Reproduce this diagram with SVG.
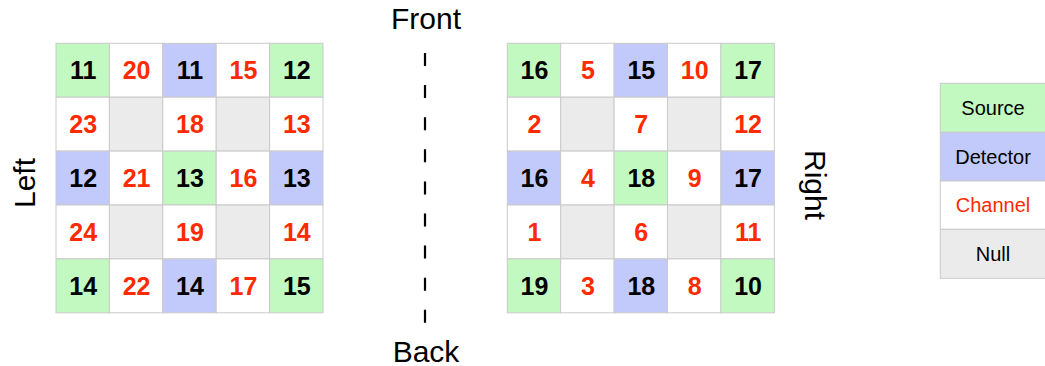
<svg xmlns="http://www.w3.org/2000/svg" width="1045" height="366" viewBox="0 0 1045 366">
<style>
.s{fill:#c1f9c1}.d{fill:#c1cafa}.c{fill:#ffffff}.n{fill:#ebebeb}
.cell{stroke:#cacaca;stroke-width:1}
.num{font-family:"Liberation Sans",Arial,sans-serif;font-weight:bold;font-size:25px;text-anchor:middle}
.k{fill:#000}.r{fill:#ff2a00}
.lbl{font-family:"Liberation Sans",Arial,sans-serif;font-size:30px;fill:#000;text-anchor:middle}
.leg{font-family:"Liberation Sans",Arial,sans-serif;font-size:20px;text-anchor:middle}
</style>
<rect width="1045" height="366" fill="#fff"/>
<g id="left-grid">
<g id="L11"><rect class="cell s" x="56" y="43.3" width="53.4" height="53.9"/><text class="num k" x="83.2" y="79.3">11</text></g>
<g id="L12"><rect class="cell c" x="109.4" y="43.3" width="53.4" height="53.9"/><text class="num r" x="136.6" y="79.3">20</text></g>
<g id="L13"><rect class="cell d" x="162.8" y="43.3" width="53.4" height="53.9"/><text class="num k" x="190" y="79.3">11</text></g>
<g id="L14"><rect class="cell c" x="216.2" y="43.3" width="53.4" height="53.9"/><text class="num r" x="243.4" y="79.3">15</text></g>
<g id="L15"><rect class="cell s" x="269.6" y="43.3" width="53.4" height="53.9"/><text class="num k" x="296.8" y="79.3">12</text></g>
<g id="L21"><rect class="cell c" x="56" y="97.2" width="53.4" height="53.9"/><text class="num r" x="83.2" y="133.2">23</text></g>
<g id="L22"><rect class="cell n" x="109.4" y="97.2" width="53.4" height="53.9"/></g>
<g id="L23"><rect class="cell c" x="162.8" y="97.2" width="53.4" height="53.9"/><text class="num r" x="190" y="133.2">18</text></g>
<g id="L24"><rect class="cell n" x="216.2" y="97.2" width="53.4" height="53.9"/></g>
<g id="L25"><rect class="cell c" x="269.6" y="97.2" width="53.4" height="53.9"/><text class="num r" x="296.8" y="133.2">13</text></g>
<g id="L31"><rect class="cell d" x="56" y="151.1" width="53.4" height="53.9"/><text class="num k" x="83.2" y="187.1">12</text></g>
<g id="L32"><rect class="cell c" x="109.4" y="151.1" width="53.4" height="53.9"/><text class="num r" x="136.6" y="187.1">21</text></g>
<g id="L33"><rect class="cell s" x="162.8" y="151.1" width="53.4" height="53.9"/><text class="num k" x="190" y="187.1">13</text></g>
<g id="L34"><rect class="cell c" x="216.2" y="151.1" width="53.4" height="53.9"/><text class="num r" x="243.4" y="187.1">16</text></g>
<g id="L35"><rect class="cell d" x="269.6" y="151.1" width="53.4" height="53.9"/><text class="num k" x="296.8" y="187.1">13</text></g>
<g id="L41"><rect class="cell c" x="56" y="205" width="53.4" height="53.9"/><text class="num r" x="83.2" y="241">24</text></g>
<g id="L42"><rect class="cell n" x="109.4" y="205" width="53.4" height="53.9"/></g>
<g id="L43"><rect class="cell c" x="162.8" y="205" width="53.4" height="53.9"/><text class="num r" x="190" y="241">19</text></g>
<g id="L44"><rect class="cell n" x="216.2" y="205" width="53.4" height="53.9"/></g>
<g id="L45"><rect class="cell c" x="269.6" y="205" width="53.4" height="53.9"/><text class="num r" x="296.8" y="241">14</text></g>
<g id="L51"><rect class="cell s" x="56" y="258.9" width="53.4" height="53.9"/><text class="num k" x="83.2" y="294.9">14</text></g>
<g id="L52"><rect class="cell c" x="109.4" y="258.9" width="53.4" height="53.9"/><text class="num r" x="136.6" y="294.9">22</text></g>
<g id="L53"><rect class="cell d" x="162.8" y="258.9" width="53.4" height="53.9"/><text class="num k" x="190" y="294.9">14</text></g>
<g id="L54"><rect class="cell c" x="216.2" y="258.9" width="53.4" height="53.9"/><text class="num r" x="243.4" y="294.9">17</text></g>
<g id="L55"><rect class="cell s" x="269.6" y="258.9" width="53.4" height="53.9"/><text class="num k" x="296.8" y="294.9">15</text></g>
</g>
<g id="right-grid">
<g id="R11"><rect class="cell s" x="507.3" y="43.3" width="53.4" height="53.9"/><text class="num k" x="534.5" y="79.3">16</text></g>
<g id="R12"><rect class="cell c" x="560.7" y="43.3" width="53.4" height="53.9"/><text class="num r" x="587.9" y="79.3">5</text></g>
<g id="R13"><rect class="cell d" x="614.1" y="43.3" width="53.4" height="53.9"/><text class="num k" x="641.3" y="79.3">15</text></g>
<g id="R14"><rect class="cell c" x="667.5" y="43.3" width="53.4" height="53.9"/><text class="num r" x="694.7" y="79.3">10</text></g>
<g id="R15"><rect class="cell s" x="720.9" y="43.3" width="53.4" height="53.9"/><text class="num k" x="748.1" y="79.3">17</text></g>
<g id="R21"><rect class="cell c" x="507.3" y="97.2" width="53.4" height="53.9"/><text class="num r" x="534.5" y="133.2">2</text></g>
<g id="R22"><rect class="cell n" x="560.7" y="97.2" width="53.4" height="53.9"/></g>
<g id="R23"><rect class="cell c" x="614.1" y="97.2" width="53.4" height="53.9"/><text class="num r" x="641.3" y="133.2">7</text></g>
<g id="R24"><rect class="cell n" x="667.5" y="97.2" width="53.4" height="53.9"/></g>
<g id="R25"><rect class="cell c" x="720.9" y="97.2" width="53.4" height="53.9"/><text class="num r" x="748.1" y="133.2">12</text></g>
<g id="R31"><rect class="cell d" x="507.3" y="151.1" width="53.4" height="53.9"/><text class="num k" x="534.5" y="187.1">16</text></g>
<g id="R32"><rect class="cell c" x="560.7" y="151.1" width="53.4" height="53.9"/><text class="num r" x="587.9" y="187.1">4</text></g>
<g id="R33"><rect class="cell s" x="614.1" y="151.1" width="53.4" height="53.9"/><text class="num k" x="641.3" y="187.1">18</text></g>
<g id="R34"><rect class="cell c" x="667.5" y="151.1" width="53.4" height="53.9"/><text class="num r" x="694.7" y="187.1">9</text></g>
<g id="R35"><rect class="cell d" x="720.9" y="151.1" width="53.4" height="53.9"/><text class="num k" x="748.1" y="187.1">17</text></g>
<g id="R41"><rect class="cell c" x="507.3" y="205" width="53.4" height="53.9"/><text class="num r" x="534.5" y="241">1</text></g>
<g id="R42"><rect class="cell n" x="560.7" y="205" width="53.4" height="53.9"/></g>
<g id="R43"><rect class="cell c" x="614.1" y="205" width="53.4" height="53.9"/><text class="num r" x="641.3" y="241">6</text></g>
<g id="R44"><rect class="cell n" x="667.5" y="205" width="53.4" height="53.9"/></g>
<g id="R45"><rect class="cell c" x="720.9" y="205" width="53.4" height="53.9"/><text class="num r" x="748.1" y="241">11</text></g>
<g id="R51"><rect class="cell s" x="507.3" y="258.9" width="53.4" height="53.9"/><text class="num k" x="534.5" y="294.9">19</text></g>
<g id="R52"><rect class="cell c" x="560.7" y="258.9" width="53.4" height="53.9"/><text class="num r" x="587.9" y="294.9">3</text></g>
<g id="R53"><rect class="cell d" x="614.1" y="258.9" width="53.4" height="53.9"/><text class="num k" x="641.3" y="294.9">18</text></g>
<g id="R54"><rect class="cell c" x="667.5" y="258.9" width="53.4" height="53.9"/><text class="num r" x="694.7" y="294.9">8</text></g>
<g id="R55"><rect class="cell s" x="720.9" y="258.9" width="53.4" height="53.9"/><text class="num k" x="748.1" y="294.9">10</text></g>
</g>
<g id="legend">
<g id="leg-source"><rect class="cell s" x="940.3" y="83.3" width="106" height="49"/><text class="leg k" x="993" y="114.8">Source</text></g>
<g id="leg-detector"><rect class="cell d" x="940.3" y="132.3" width="106" height="48.7"/><text class="leg k" x="993" y="163.7">Detector</text></g>
<g id="leg-channel"><rect class="cell c" x="940.3" y="181" width="106" height="48.3"/><text class="leg r" x="993" y="212.1">Channel</text></g>
<g id="leg-null"><rect class="cell n" x="940.3" y="229.3" width="106" height="49"/><text class="leg k" x="993" y="260.8">Null</text></g>
</g>
<g id="labels">
<text class="lbl" x="426" y="29">Front</text>
<text class="lbl" x="426" y="362">Back</text>
<text class="lbl" transform="translate(35,183) rotate(-90)" x="0" y="0">Left</text>
<text class="lbl" transform="translate(805,185) rotate(90)" x="0" y="0">Right</text>
</g>
<g id="connectors">
<line x1="425" y1="53" x2="425" y2="323" stroke="#000" stroke-width="2.2" stroke-dasharray="13 19.1"/>
</g>
</svg>
